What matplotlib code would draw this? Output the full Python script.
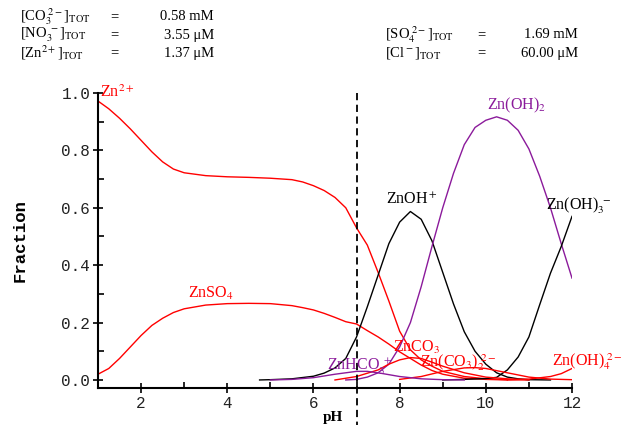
import matplotlib
matplotlib.use("Agg")
import matplotlib.pyplot as plt
from matplotlib.ticker import MultipleLocator

plt.rcParams['mathtext.fontset'] = 'stix'
plt.rcParams['font.family'] = ['Liberation Serif', 'DejaVu Sans']

RED = '#ff0000'
PURPLE = '#8b1a9b'
BLACK = '#000000'

# ---- data (fractions) ----
ph_zn = [1.0, 1.25, 1.5, 1.75, 2.0, 2.25, 2.5, 2.75, 3.0, 3.5, 4.0, 4.5, 5.0, 5.5, 5.75, 6.0,
         6.25, 6.5, 6.75, 7.0, 7.25, 7.5, 7.75, 8.0, 8.25, 8.5, 8.75, 9.0, 9.5, 10.0, 10.5, 11.0]
zn2 = [0.972, 0.945, 0.912, 0.875, 0.835, 0.795, 0.76, 0.735, 0.722, 0.712, 0.708, 0.706, 0.703,
       0.698, 0.69, 0.677, 0.66, 0.636, 0.60, 0.53, 0.47, 0.375, 0.275, 0.17, 0.105, 0.07,
       0.048, 0.03, 0.012, 0.004, 0.001, 0.0]

ph_so4 = [1.0, 1.25, 1.5, 1.75, 2.0, 2.25, 2.5, 2.75, 3.0, 3.5, 4.0, 4.5, 5.0, 5.5, 5.75, 6.0,
          6.25, 6.5, 6.75, 7.0, 7.25, 7.5, 7.75, 8.0, 8.25, 8.5, 8.75, 9.0, 9.5, 10.0, 10.5]
znso4 = [0.02, 0.04, 0.075, 0.115, 0.155, 0.19, 0.215, 0.235, 0.248, 0.261, 0.266, 0.267,
         0.266, 0.259, 0.252, 0.244, 0.232, 0.218, 0.203, 0.195, 0.172, 0.15, 0.125, 0.098,
         0.075, 0.052, 0.033, 0.02, 0.006, 0.002, 0.0]

ph_oh1 = [4.75, 5.0, 5.5, 6.0, 6.25, 6.5, 6.75, 7.0, 7.25, 7.5, 7.75, 8.0, 8.25, 8.5, 8.75,
          9.0, 9.25, 9.5, 9.75, 10.0, 10.25, 10.5, 10.75, 11.0, 11.5]
znoh = [0.0, 0.001, 0.004, 0.013, 0.024, 0.042, 0.075, 0.15, 0.255, 0.365, 0.475, 0.55, 0.587,
        0.56, 0.485, 0.375, 0.265, 0.168, 0.1, 0.055, 0.025, 0.01, 0.004, 0.001, 0.0]

ph_oh2 = [6.75, 7.0, 7.25, 7.5, 7.75, 8.0, 8.25, 8.5, 8.75, 9.0, 9.25, 9.5, 9.75, 10.0, 10.25,
          10.5, 10.75, 11.0, 11.25, 11.5, 11.75, 12.0]
znoh2 = [0.0, 0.002, 0.01, 0.025, 0.055, 0.115, 0.2, 0.325, 0.465, 0.6, 0.72, 0.82, 0.88,
         0.905, 0.917, 0.905, 0.87, 0.805, 0.71, 0.6, 0.475, 0.355]

ph_oh3 = [9.0, 9.5, 10.0, 10.25, 10.5, 10.75, 11.0, 11.25, 11.5, 11.75, 12.0]
znoh3 = [0.0, 0.002, 0.005, 0.009, 0.035, 0.08, 0.15, 0.262, 0.372, 0.465, 0.57]

ph_oh4 = [10.5, 11.0, 11.5, 11.75, 12.0]
znoh4 = [0.0, 0.003, 0.012, 0.022, 0.04]

ph_co3 = [6.5, 7.0, 7.5, 7.75, 8.0, 8.25, 8.5, 8.75, 9.0, 9.5, 10.0, 10.5, 11.0]
znco3 = [0.0, 0.012, 0.035, 0.055, 0.07, 0.078, 0.075, 0.062, 0.048, 0.025, 0.01, 0.004, 0.001]

ph_co32 = [8.0, 8.5, 9.0, 9.5, 9.75, 10.0, 10.5, 11.0, 11.5, 12.0]
znco32 = [0.002, 0.012, 0.03, 0.042, 0.043, 0.04, 0.025, 0.01, 0.003, 0.001]

ph_hco3 = [5.0, 5.5, 6.0, 6.5, 7.0, 7.25, 7.5, 8.0, 8.5, 9.0, 9.5]
znhco3 = [0.0, 0.002, 0.008, 0.02, 0.03, 0.03, 0.025, 0.012, 0.004, 0.001, 0.0]

series = [
    (ph_zn, zn2, RED), (ph_so4, znso4, RED), (ph_oh1, znoh, BLACK), (ph_oh2, znoh2, PURPLE),
    (ph_oh3, znoh3, BLACK), (ph_oh4, znoh4, RED), (ph_co3, znco3, RED),
    (ph_co32, znco32, RED), (ph_hco3, znhco3, PURPLE),
]

labels = [
    (r'Zn$^{2+}$', 1.05, 1.0, RED, 'left'),
    (r'ZnSO$_4$', 3.62, 0.30, RED, 'center'),
    (r'ZnOH$^+$', 8.29, 0.627, BLACK, 'center'),
    (r'Zn(OH)$_2$', 10.72, 0.958, PURPLE, 'center'),
    (r'Zn(OH)$_3^{\ -}$', 12.15, 0.606, BLACK, 'center'),
    (r'ZnCO$_3$', 8.4, 0.115, RED, 'center'),
    (r'ZnHCO$_3^{\ +}$', 7.08, 0.045, PURPLE, 'center'),
    (r'Zn(CO$_3$)$_2^{\ 2-}$', 9.35, 0.06, RED, 'center'),
    (r'Zn(OH)$_4^{\ 2-}$', 12.35, 0.063, RED, 'center'),
]

header_left = [r'[CO$_3^{\ 2-}$]$_{\rm TOT}$', r'[NO$_3^{\ -}$]$_{\rm TOT}$', r'[Zn$^{2+}$]$_{\rm TOT}$']
header_left_vals = ['0.58 mM', '3.55 μM', '1.37 μM']
header_right = [r'[SO$_4^{\ 2-}$]$_{\rm TOT}$', r'[Cl$^-$]$_{\rm TOT}$']
header_right_vals = ['1.69 mM', '60.00 μM']

fig = plt.figure(figsize=(6.28, 4.29), dpi=100)
ax = fig.add_axes([98/628, 1-388/429, 474/628, 295/429])

for x, y, c in series:
    ax.plot(x, y, color=c, lw=1.0)

ax.set_xlim(1, 12)
ax.set_ylim(-0.028, 1.0)
for s in ['top', 'right']:
    ax.spines[s].set_visible(False)
for s in ['left', 'bottom']:
    ax.spines[s].set_linewidth(1.5)

ax.xaxis.set_major_locator(MultipleLocator(2))
ax.xaxis.set_minor_locator(MultipleLocator(1))
ax.yaxis.set_major_locator(MultipleLocator(0.2))
ax.yaxis.set_minor_locator(MultipleLocator(0.1))
ax.yaxis.set_major_formatter(matplotlib.ticker.FormatStrFormatter('%.1f'))
ax.tick_params(axis='both', which='major', direction='inout', length=7, width=1.2,
               labelsize=11.5, pad=2, labelcolor='#222222')
ax.tick_params(axis='both', which='minor', direction='in', length=4, width=1.2)
ax.set_xticks([2, 4, 6, 8, 10, 12])
for lab in ax.get_xticklabels() + ax.get_yticklabels():
    lab.set_fontfamily('Liberation Mono')

ax.plot([7, 7], [1.0, -0.157], color='black', lw=1.3, ls=(0, (4, 2.5)), clip_on=False)

for t, x, y, c, ha in labels:
    ax.text(x, y, t, color=c, fontsize=11.5, ha=ha, va='center', clip_on=False)

fig.text(20/628, 1-240/429, 'Fraction', rotation=90, fontsize=12.5, fontweight='bold',
         family='Liberation Mono', ha='center', va='center')
fig.text(333/628, 1-418/429, 'pH', fontsize=11, fontweight='bold', ha='center', va='center')

ys = [17, 35, 53]
for i, (t, v) in enumerate(zip(header_left, header_left_vals)):
    fig.text(20/628, 1-ys[i]/429, t, fontsize=10.5, ha='left', va='center')
    fig.text(110/628, 1-ys[i]/429, '=', fontsize=10.5, ha='left', va='center')
    fig.text(214/628, 1-ys[i]/429, v, fontsize=10.5, ha='right', va='center')
for i, (t, v) in enumerate(zip(header_right, header_right_vals)):
    fig.text(385/628, 1-ys[i+1]/429, t, fontsize=10.5, ha='left', va='center')
    fig.text(477/628, 1-ys[i+1]/429, '=', fontsize=10.5, ha='left', va='center')
    fig.text(578/628, 1-ys[i+1]/429, v, fontsize=10.5, ha='right', va='center')

fig.savefig('out.png', dpi=100)
